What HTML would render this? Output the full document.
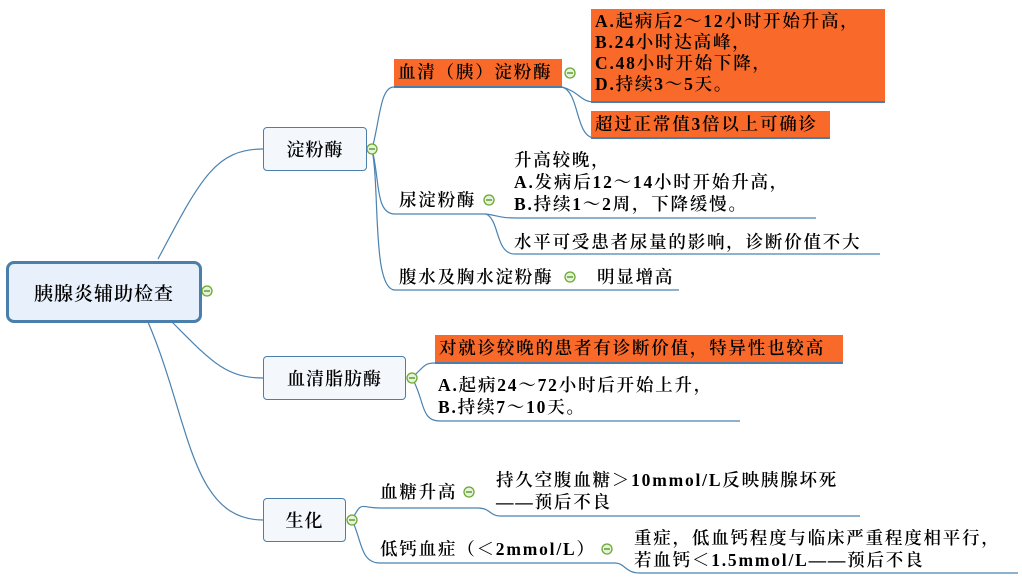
<!DOCTYPE html>
<html><head><meta charset="utf-8"><style>
body{margin:0;width:1022px;height:588px;background:#fff;position:relative;overflow:hidden;font-family:"Liberation Serif","Noto Serif CJK SC",serif;color:#000}
.t{position:absolute;font-size:17.5px;letter-spacing:1.8px;line-height:22px;white-space:nowrap;font-weight:600}
.box{position:absolute;box-sizing:border-box;display:flex;align-items:center;justify-content:center;font-weight:600;letter-spacing:1px}
.o{position:absolute;background:#f96a2a;box-sizing:border-box;border-bottom:2px solid #4a7fab;padding-left:4px;font-size:17.5px;letter-spacing:1.8px;line-height:21px;white-space:nowrap;font-weight:600}
svg{position:absolute;left:0;top:0}
</style></head><body>
<svg width="1022" height="588">
<g fill="none" stroke="#4a82b0" stroke-width="1.2">
<path d="M158 259 C200 180 215 149 263 149"/>
<path d="M172 322 C210 360 225 378 263 378"/>
<path d="M148 322 C190 420 190 520 263 520"/>
<path d="M372 149 C380 120 380 87 394 87 L562 87"/>
<path d="M372 149 C380 180 375 214 395 214 L486 214"/>
<path d="M372 149 C380 190 372 290 395 290 L679 290"/>
<path d="M562 87 C580 92 580 102 595 102 L885 102"/>
<path d="M562 87 C580 92 575 138 595 138 L830 138"/>
<path d="M486 214 C500 216 500 218 516 218 L816 218"/>
<path d="M486 214 C500 220 495 254 515 254 L880 254"/>
<path d="M412 378 C425 365 425 363 435 363 L843 363"/>
<path d="M412 378 C425 400 420 421 440 421 L740 421"/>
<path d="M352 520 C362 500 360 508 380 508 L478 508 C490 508 490 516 500 516 L860 516"/>
<path d="M352 520 C362 540 360 563 380 563 L615 563 C625 563 625 573 640 573 L1018 573"/>
</g>
<g fill="#e6f3d8" stroke="#6aa832" stroke-width="1.3">
<circle cx="207" cy="291" r="5"/><circle cx="372" cy="149" r="5"/><circle cx="570" cy="73" r="5"/>
<circle cx="489" cy="200" r="5"/><circle cx="570" cy="277" r="5"/><circle cx="412" cy="378" r="5"/>
<circle cx="352" cy="520" r="5"/><circle cx="469" cy="492" r="5"/><circle cx="607" cy="549" r="5"/>
</g>
<g stroke="#4a8a20" stroke-width="1.2">
<path d="M204 291h6M369 149h6M567 73h6M486 200h6M567 277h6M409 378h6M349 520h6M466 492h6M604 549h6"/>
</g>
</svg>
<div class="box" style="left:6px;top:261px;width:196px;height:62px;border:3px solid #4a7fab;border-radius:8px;background:#e8f1fb;font-size:19px">胰腺炎辅助检查</div>
<div class="box" style="left:263px;top:127px;width:104px;height:44px;border:1px solid #4a7fab;border-radius:4px;background:#f4f8fc;font-size:18px">淀粉酶</div>
<div class="box" style="left:263px;top:356px;width:143px;height:44px;border:1px solid #4a7fab;border-radius:4px;background:#f4f8fc;font-size:18px">血清脂肪酶</div>
<div class="box" style="left:263px;top:498px;width:83px;height:44px;border:1px solid #4a7fab;border-radius:4px;background:#f4f8fc;font-size:18px">生化</div>
<div class="o" style="left:394px;top:59px;width:168px;height:29px;padding-top:3px">血清（胰）淀粉酶</div>
<div class="o" style="left:591px;top:9px;width:294px;height:94px;padding-top:2px">A.起病后2～12小时开始升高，<br>B.24小时达高峰，<br>C.48小时开始下降，<br>D.持续3～5天。</div>
<div class="o" style="left:591px;top:111px;width:239px;height:28px;padding-top:3px">超过正常值3倍以上可确诊</div>
<div class="o" style="left:435px;top:335px;width:408px;height:29px;padding-top:3px">对就诊较晚的患者有诊断价值，特异性也较高</div>
<div class="t" style="left:399px;top:189px">尿淀粉酶</div>
<div class="t" style="left:514px;top:149px">升高较晚，<br>A.发病后12～14小时开始升高，<br>B.持续1～2周，下降缓慢。</div>
<div class="t" style="left:514px;top:231px">水平可受患者尿量的影响，诊断价值不大</div>
<div class="t" style="left:399px;top:266px">腹水及胸水淀粉酶</div>
<div class="t" style="left:597px;top:266px">明显增高</div>
<div class="t" style="left:438px;top:374px">A.起病24～72小时后开始上升，<br>B.持续7～10天。</div>
<div class="t" style="left:380px;top:481px">血糖升高</div>
<div class="t" style="left:496px;top:469px">持久空腹血糖＞10mmol/L反映胰腺坏死<br>——预后不良</div>
<div class="t" style="left:380px;top:538px">低钙血症（＜2mmol/L）</div>
<div class="t" style="left:634px;top:527px">重症，低血钙程度与临床严重程度相平行，<br>若血钙＜1.5mmol/L——预后不良</div>
</body></html>
